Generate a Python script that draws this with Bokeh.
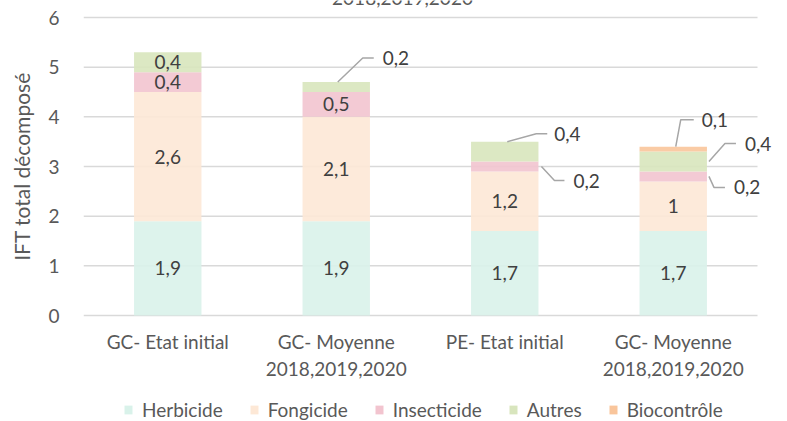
from bokeh.plotting import figure
from bokeh.layouts import column
from bokeh.models import ColumnDataSource, Legend, LegendItem, FixedTicker
from bokeh.core.properties import value
from bokeh.embed import file_html
from bokeh.resources import INLINE

# ---------------- data ----------------
categories = ["GC- Etat initial", "GC- Moyenne\n2018,2019,2020",
              "PE- Etat initial", "GC- Moyenne\n2018,2019,2020"]
series = ["Herbicide", "Fongicide", "Insecticide", "Autres", "Biocontrôle"]
herbicide = [1.9, 1.9, 1.7, 1.7]
fongicide = [2.6, 2.1, 1.2, 1.0]
insecticide = [0.4, 0.5, 0.2, 0.2]
autres = [0.4, 0.2, 0.4, 0.4]
biocontrole = [0.0, 0.0, 0.0, 0.1]
y_ticks = [0, 1, 2, 3, 4, 5, 6]
y_label = "IFT total décomposé"
title_text = "2018,2019,2020"

# ---------------- style ----------------
colors = ["#d9f2ea", "#fde8d6", "#f2c4cf", "#d8e5bd", "#f9c59b"]
FONT = "Lato"
FS = "19px"
TXT = "#595959"
LBL = "#404040"
GRID = "#d9d9d9"
W = 787
H_MAIN, H_LEG = 389, 32
BL = 83                     # frame left border (px)
PLOT_W, PLOT_H = 674, 298   # size of the 0..6 / 4-category area (px)
EXTRA_R, EXTRA_T, EXTRA_B = 30, 17, 17  # frame extension beyond the grid (px)
BB = H_MAIN - (EXTRA_T + PLOT_H + EXTRA_B)
BAR_W = 0.4

n = len(categories)
ymax = max(y_ticks)
px_x = n / PLOT_W
px_y = ymax / PLOT_H

values = [herbicide, fongicide, insecticide, autres, biocontrole]
xs = list(range(1, n + 1))
data = {"x": xs}
for s, v in zip(series, values):
    data[s] = v
source = ColumnDataSource(data)

p = figure(width=W, height=H_MAIN,
           x_range=(0.5, n + 0.5 + EXTRA_R * px_x),
           y_range=(-EXTRA_B * px_y, ymax + EXTRA_T * px_y),
           output_backend="svg", toolbar_location=None,
           min_border_left=BL, min_border_right=0, min_border_top=0, min_border_bottom=BB)
p.outline_line_color = None
p.background_fill_color = "white"
p.border_fill_color = "white"

# horizontal grid lines spanning only the category area
p.segment(x0=[0.5] * len(y_ticks), x1=[n + 0.5] * len(y_ticks), y0=y_ticks, y1=y_ticks,
          line_color=GRID, line_width=1.5)

p.vbar_stack(series, x="x", width=BAR_W, color=colors, source=source,
             line_color=None, fill_alpha=0.9)

# axes
p.xgrid.grid_line_color = None
p.ygrid.grid_line_color = None
p.yaxis.ticker = FixedTicker(ticks=y_ticks)
p.yaxis.axis_line_color = None
p.yaxis.major_tick_line_color = None
p.yaxis.minor_tick_line_color = None
p.yaxis.major_label_standoff = 18
p.yaxis.major_label_text_font = FONT
p.yaxis.major_label_text_font_size = FS
p.yaxis.major_label_text_color = TXT
p.yaxis.axis_label = y_label
p.yaxis.axis_label_text_font = FONT
p.yaxis.axis_label_text_font_size = "21px"
p.yaxis.axis_label_text_font_style = "normal"
p.yaxis.axis_label_text_color = TXT
p.yaxis.axis_label_standoff = 11

p.xaxis.ticker = FixedTicker(ticks=xs)
p.xaxis.major_label_overrides = {x: c for x, c in zip(xs, categories)}
p.xaxis.axis_line_color = None
p.xaxis.major_tick_line_color = None
p.xaxis.minor_tick_line_color = None
p.xaxis.major_label_standoff = 8 - EXTRA_B
p.xaxis.major_label_text_font = FONT
p.xaxis.major_label_text_font_size = FS
p.xaxis.major_label_text_color = TXT

def fmt(v):
    return f"{v:g}".replace(".", ",")

# callout labels: (bar, series): (anchor, anchor_dx_px, elbow_dx_px, elbow_dy_px, arm_px, gap_px)
callouts = {
    (1, 3): ("top", 1.5, 25, 24, 11, 9),
    (2, 3): ("top", 2.5, 29, 8, 11, 7),
    (2, 2): ("side", 3, 13, -14, 10, 9),
    (3, 4): ("top", 2.5, 5, 27, 13, 8),
    (3, 3): ("side", 2, 16, 18, 11, 9),
    (3, 2): ("side", 2, 5, -11, 11, 9),
}

in_x, in_y, in_t = [], [], []
lx, ly, lt = [], [], []
seg_xs, seg_ys = [], []
for i, x in enumerate(xs):
    base = 0.0
    for j, ser in enumerate(values):
        v = ser[i]
        top = base + v
        if v > 0:
            if (i, j) in callouts:
                kind, adx, edx, edy, arm, gap = callouts[(i, j)]
                if kind == "top":
                    ax, ay = x + adx * px_x, top
                else:
                    ax, ay = x + BAR_W / 2 + adx * px_x, base + v / 2
                ex, ey = ax + edx * px_x, ay + edy * px_y
                fx = ex + arm * px_x
                seg_xs.append([ax, ex, fx])
                seg_ys.append([ay, ey, ey])
                lx.append(fx + gap * px_x)
                ly.append(ey)
                lt.append(fmt(v))
            else:
                in_x.append(x)
                in_y.append(base + v / 2)
                in_t.append(fmt(v))
        base = top

p.multi_line(xs=seg_xs, ys=seg_ys, line_color="#a6a6a6", line_width=1.5)
p.text(x=in_x, y=in_y, text=in_t, text_align="center", text_baseline="middle",
       text_font=value(FONT), text_font_size=FS, text_color=LBL)
p.text(x=lx, y=ly, text=lt, text_align="left", text_baseline="middle",
       text_font=value(FONT), text_font_size=FS, text_color=LBL)

# chart title, cut off by the top edge as in the reference
p.text(x=[(n + 1) / 2 - 18 * px_x], y=[ymax + (EXTRA_T - 4) * px_y], text=[title_text],
       text_align="center", text_baseline="bottom",
       text_font=value(FONT), text_font_size=FS, text_color=TXT)

# ---------------- legend strip ----------------
pl = figure(width=W, height=H_LEG, x_range=(-2, -1), y_range=(0, 1),
            x_axis_type=None, y_axis_type=None,
            output_backend="svg", toolbar_location=None, min_border=0)
pl.outline_line_color = None
pl.background_fill_color = "white"
pl.border_fill_color = "white"
# same stacked series (outside the strip's visible range) so the legend swatches get their styles
leg_renderers = pl.vbar_stack(series, x="x", width=BAR_W, color=colors, source=source,
                              line_color=None)
legend = Legend(items=[LegendItem(label=s, renderers=[r]) for s, r in zip(series, leg_renderers)],
                orientation="horizontal", location=(40, 0),
                glyph_width=10, glyph_height=11, label_standoff=9, spacing=26,
                padding=0, margin=0, border_line_color=None, background_fill_alpha=0,
                label_text_font=FONT, label_text_font_size=FS, label_text_color=TXT,
                label_height=20)
pl.add_layout(legend)

layout = column(p, pl, spacing=0)
open("out.html", "w").write(file_html(layout, INLINE))
